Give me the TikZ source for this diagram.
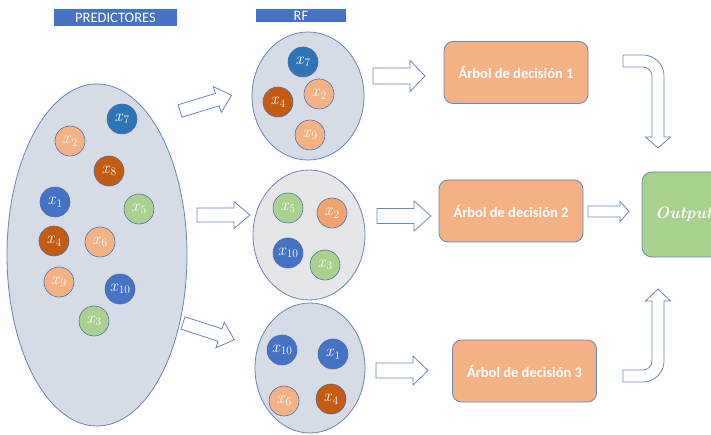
\documentclass[tikz,border=0pt]{standalone}
\usepackage{fontspec}
\newfontfamily\calib{Carlito}
\usetikzlibrary{shapes.geometric}
\newcommand\xlab[1]{\textit{x}\kern0.3pt\raisebox{-0.35ex}{\fontsize{11.5}{11.5}\selectfont #1}}
\definecolor{cdb}{HTML}{2E75B6}
\definecolor{cbl}{HTML}{4472C4}
\definecolor{cdo}{HTML}{C55A11}
\definecolor{csa}{HTML}{F4B183}
\definecolor{cor}{HTML}{F2A46E}
\definecolor{cgr}{HTML}{A9D18E}
\definecolor{cbord}{HTML}{4F6FA8}
\definecolor{cell}{HTML}{D6DCE5}
\definecolor{cgrey}{HTML}{E6E6E8}
\definecolor{cline}{HTML}{6A84BA}
\definecolor{cbar}{HTML}{4472C4}
\tikzset{
  ball/.style={circle, minimum size=30, inner sep=0pt, draw=cbord, line width=0.6pt, text=white, font=\fontsize{17}{17}\selectfont},
  bdb/.style={ball, fill=cdb},
  bbl/.style={ball, fill=cbl},
  bdo/.style={ball, fill=cdo},
  bsa/.style={ball, fill=csa},
  bor/.style={ball, fill=cor},
  bgr/.style={ball, fill=cgr},
  group/.style={ellipse, draw=cline, line width=0.8pt, fill=cell, inner sep=0pt},
  bar/.style={fill=cbar, text=white, inner sep=0pt, font=\calib\fontsize{14.5}{14.5}\selectfont},
  tree/.style={rectangle, rounded corners=9pt, draw=cline, line width=0.8pt, fill=csa, text=white, minimum width=144, minimum height=62, inner sep=0pt, font=\calib\bfseries\fontsize{14.5}{14.5}\selectfont},
  outbox/.style={rectangle, rounded corners=10pt, draw=cline, line width=0.8pt, fill=cgr, minimum width=86, minimum height=85, inner sep=0pt},
  outtext/.style={text=white, inner sep=0pt, font=\bfseries\itshape\fontsize{16.5}{16.5}\selectfont},
  arrline/.style={draw=cline, line width=0.8pt, fill=white, line join=miter},
  pics/barr/.style n args={4}{code={\draw[arrline] (0,-#2) -- ({#1-#3},-#2) -- ({#1-#3},-#4) -- (#1,0) -- ({#1-#3},#4) -- ({#1-#3},#2) -- (0,#2) -- cycle;}}
}
\begin{document}
\begin{tikzpicture}[x=1pt,y=-1pt]
\useasboundingbox (0,0) rectangle (711,435);
\clip (0,0) rectangle (711,435);

% header bars
\node[bar, minimum width=123, minimum height=17] (hpred) at (115.5,17.5) {PREDICTORES};
\node[bar, minimum width=90, minimum height=13] (hrf) at (301,15.5) {RF};

% big ellipse of predictors
\node[group, minimum width=180, minimum height=342] (all) at (97,255) {};
\node[bdb] (p7) at (122,119) {\xlab{7}};
\node[bsa] (p2) at (70,141) {\xlab{2}};
\node[bdo] (p8) at (109,171) {\xlab{8}};
\node[bbl] (p1) at (55,202) {\xlab{1}};
\node[bgr] (p5) at (139,209) {\xlab{5}};
\node[bdo] (p4) at (54,241) {\xlab{4}};
\node[bsa] (p6) at (100,242) {\xlab{6}};
\node[bsa] (p9) at (59,282) {\xlab{9}};
\node[bbl] (p10) at (120,289) {\xlab{10}};
\node[bgr] (p3) at (94,321) {\xlab{3}};

% RF subset 1
\node[group, minimum width=112, minimum height=128] (rf1) at (308,96) {};
\node[bdb] (a7) at (303,62) {\xlab{7}};
\node[bsa] (a2) at (319,94) {\xlab{2}};
\node[bdo] (a4) at (278,102) {\xlab{4}};
\node[bsa] (a9) at (310,135) {\xlab{9}};

% RF subset 2
\node[group, fill=cgrey, minimum width=112, minimum height=130] (rf2) at (309,235) {};
\node[bgr] (b5) at (288,208) {\xlab{5}};
\node[bor] (b2) at (332,213) {\xlab{2}};
\node[bbl] (b10) at (288,253) {\xlab{10}};
\node[bgr] (b3) at (325,265) {\xlab{3}};

% RF subset 3
\node[group, minimum width=110, minimum height=130] (rf3) at (310,368) {};
\node[bbl] (c10) at (282,350) {\xlab{10}};
\node[bbl] (c1) at (333,354) {\xlab{1}};
\node[bsa] (c6) at (284,401) {\xlab{6}};
\node[bdo] (c4) at (331,399) {\xlab{4}};

% arrows predictors -> RF
\pic[rotate=17] at (180,111) {barr={54}{6.5}{15}{13.5}};
\pic at (197,215) {barr={53}{7}{16}{13.5}};
\pic[rotate=-18] at (183,323) {barr={54}{6.5}{15}{13.5}};

% decision trees
\node[tree] (t1) at (516,72.5) {Árbol de decisión 1};
\node[tree] (t2) at (511,211) {Árbol de decisión 2};
\node[tree] (t3) at (524.5,371) {Árbol de decisión 3};

% arrows RF -> trees
\pic at (373,76) {barr={52}{8}{15}{15.5}};
\pic at (377,216) {barr={54}{7.5}{17}{15}};
\pic at (376,370.5) {barr={52}{7.5}{15}{14.5}};

% output
\node[outbox] (res) at (685,214.5) {};
\node[outtext, anchor=west] (restxt) at (655,214.5) {Output};
\pic at (588,211.5) {barr={41}{5.5}{9}{10}};

% bent arrows
\draw[arrline] (623,55) -- (643,55) arc[start angle=-90,end angle=0,radius=21] -- (664,137) -- (670.5,137) -- (658,148) -- (645.5,137) -- (652,137) -- (652,76) arc[start angle=0,end angle=-90,radius=9] -- (623,67) -- cycle;
\draw[arrline] (623,382) -- (643,382) arc[start angle=90,end angle=0,radius=21] -- (664,301) -- (670.5,301) -- (658,289) -- (645.5,301) -- (652,301) -- (652,361) arc[start angle=0,end angle=90,radius=9] -- (623,370) -- cycle;
\end{tikzpicture}
\end{document}
